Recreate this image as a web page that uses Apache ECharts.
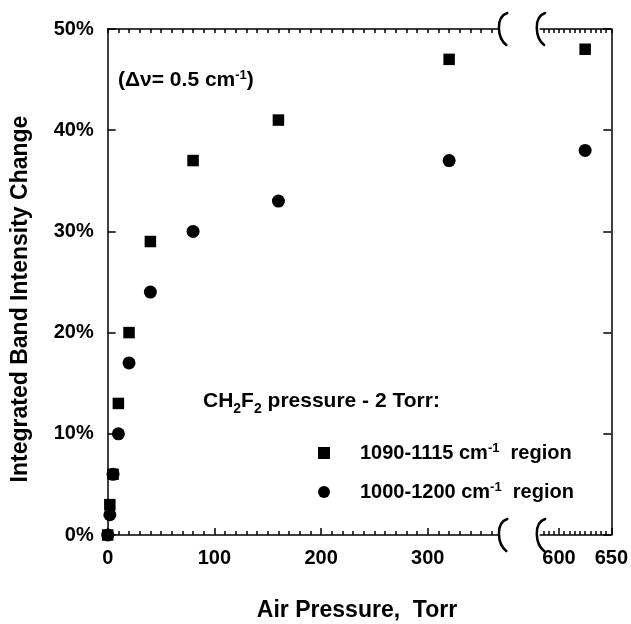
<!DOCTYPE html>
<html>
<head>
<meta charset="utf-8">
<script src="https://cdn.jsdelivr.net/npm/echarts@6/dist/echarts.min.js"></script>
<style>
  html, body { margin: 0; padding: 0; background: #ffffff; }
  #chart { width: 631px; height: 624px; }
</style>
</head>
<body>
<div id="chart"></div>
<script>
// Air pressure (Torr) and the integrated band intensity change (%) for two spectral windows
const pressureTorr   = [0, 2, 5, 10, 20, 40, 80, 160, 320, 625];
const band1090to1115 = [0, 3, 6, 13, 20, 29, 37, 41, 47, 48];
const band1000to1200 = [0, 2, 6, 10, 17, 24, 30, 33, 37, 38];

const seriesNames = ['1090-1115 cm-1 region', '1000-1200 cm-1 region'];

// Broken x axis: a low segment and a high segment
const lowRange  = [0, 367];
const highRange = [582, 650];
const lowMajorTicks  = [0, 100, 200, 300];
const lowMinorTicks  = [0, 10, 20, 30, 40, 50, 60, 70, 80, 90, 100, 110, 120, 130, 140, 150, 160, 170, 180,
                        190, 200, 210, 220, 230, 240, 250, 260, 270, 280, 290, 300, 310, 320, 330, 340, 350, 360];
const highMajorTicks = [600, 650];
const highMinorTicks = [585, 590, 595, 600, 605, 610, 615, 620, 625, 630, 635, 640, 645, 650];

const FONT = '"Liberation Sans", Arial, Helvetica, sans-serif';
const INK = '#000000';

// layout (pixels)
const plotTop = 29, plotHeight = 506;
const pxPerTorr = 1.067;
const lowLeft = 107.7;
const lowWidth = (lowRange[1] - lowRange[0]) * pxPerTorr;
const highWidth = (highRange[1] - highRange[0]) * pxPerTorr;
const highLeft = 612.7 - highWidth;

function split(values, inHigh) {
  const out = [];
  pressureTorr.forEach((p, i) => {
    const high = p >= highRange[0];
    if (high === inHigh) out.push([p, values[i]]);
  });
  return out;
}

function xAxisSet(gridIndex, range, major, minor) {
  const line = { show: true, lineStyle: { color: INK, width: 1.5 } };
  const base = {
    type: 'value', gridIndex, min: range[0], max: range[1],
    splitLine: { show: false }
  };
  return [
    Object.assign({}, base, {
      position: 'bottom', axisLine: line,
      axisTick: { show: true, inside: true, length: 7, customValues: major, lineStyle: { color: INK, width: 1.5 } },
      axisLabel: { show: true, customValues: major, margin: 13, color: INK,
                   fontFamily: FONT, fontWeight: 'bold', fontSize: 20 }
    }),
    Object.assign({}, base, {
      position: 'bottom', axisLine: { show: false },
      axisTick: { show: true, inside: true, length: 4, customValues: minor, lineStyle: { color: INK, width: 1.5 } },
      axisLabel: { show: false }
    }),
    Object.assign({}, base, {
      position: 'top', axisLine: line,
      axisTick: { show: true, inside: true, length: 4, customValues: minor, lineStyle: { color: INK, width: 1.5 } },
      axisLabel: { show: false }
    })
  ];
}

const xAxes = [].concat(
  xAxisSet(0, lowRange, lowMajorTicks, lowMinorTicks),
  xAxisSet(1, highRange, highMajorTicks, highMinorTicks)
);

const yBase = {
  type: 'value', min: 0, max: 50, interval: 10,
  splitLine: { show: false },
  axisLine: { show: true, lineStyle: { color: INK, width: 1.5 } },
  axisTick: { show: true, inside: true, length: 8, lineStyle: { color: INK, width: 1.5 } }
};
const yAxes = [
  Object.assign({}, yBase, {
    gridIndex: 0, position: 'left',
    axisLabel: { formatter: '{value}%', margin: 14, color: INK, fontFamily: FONT, fontWeight: 'bold', fontSize: 20 },
    name: 'Integrated Band Intensity Change', nameLocation: 'middle', nameGap: 76, nameRotate: 90,
    nameTextStyle: { color: INK, fontFamily: FONT, fontWeight: 'bold', fontSize: 23, padding: [0, 34, 0, 0] }
  }),
  Object.assign({}, yBase, {
    gridIndex: 1, position: 'right',
    axisLabel: { show: false }
  })
];

const markerStyles = [
  { symbol: 'rect', symbolSize: 11.5 },
  { symbol: 'circle', symbolSize: 13 }
];
const seriesValues = [band1090to1115, band1000to1200];

const series = [];
seriesValues.forEach((vals, s) => {
  [false, true].forEach(inHigh => {
    series.push({
      type: 'scatter',
      name: seriesNames[s],
      xAxisIndex: inHigh ? 3 : 0,
      yAxisIndex: inHigh ? 1 : 0,
      symbol: markerStyles[s].symbol,
      symbolSize: markerStyles[s].symbolSize,
      itemStyle: { color: INK, opacity: 1 },
      emphasis: { disabled: true },
      data: split(vals, inHigh)
    });
  });
});

const richText = {
  sup: { fontFamily: FONT, fontWeight: 'bold', fontSize: 13, color: INK, verticalAlign: 'top', lineHeight: 22 },
  sub: { fontFamily: FONT, fontWeight: 'bold', fontSize: 14, color: INK, verticalAlign: 'bottom', lineHeight: 30 },
  gap: { width: 25 }
};

function legendLabel(name) {
  return '{gap| }' + name.replace('cm-1 ', 'cm{sup|-1}  ');
}

function legendFor(index, top) {
  return {
    data: [{ name: seriesNames[index], icon: markerStyles[index].symbol }],
    left: 313, top,
    itemWidth: 12, itemHeight: 12,
    selectedMode: false,
    formatter: legendLabel,
    textStyle: { color: INK, fontFamily: FONT, fontWeight: 'bold', fontSize: 20, rich: richText },
    itemStyle: { color: INK }
  };
}

// curly break marks on the top and bottom axis lines
function breakMark(cx, cy) {
  return {
    type: 'bezierCurve',
    shape: { x1: cx + 5, y1: cy - 16, cpx1: cx - 7, cpy1: cy - 12, cpx2: cx - 5, cpy2: cy + 9, x2: cx + 4, y2: cy + 16 },
    style: { stroke: INK, lineWidth: 2.5, fill: null, lineCap: 'round' },
    z: 100
  };
}
const lowEdge = lowLeft + lowWidth;
const breakMarks = [
  breakMark(lowEdge + 3, plotTop), breakMark(highLeft, plotTop),
  breakMark(lowEdge + 3, plotTop + plotHeight), breakMark(highLeft, plotTop + plotHeight)
];

const chart = echarts.init(document.getElementById('chart'), null, { renderer: 'canvas' });
chart.setOption({
  backgroundColor: '#ffffff',
  animation: false,
  grid: [
    { left: lowLeft, top: plotTop, width: lowWidth, height: plotHeight },
    { left: highLeft, top: plotTop, width: highWidth, height: plotHeight }
  ],
  xAxis: xAxes,
  yAxis: yAxes,
  title: [
    {
      text: 'Air Pressure,  Torr', left: 352, top: 594, textAlign: 'center',
      textStyle: { color: INK, fontFamily: FONT, fontWeight: 'bold', fontSize: 23 }
    },
    {
      text: '(\u0394\u03bd= 0.5 cm{sup|-1})', left: 113, top: 64,
      textStyle: { color: INK, fontFamily: FONT, fontWeight: 'bold', fontSize: 21, rich: richText }
    },
    {
      text: 'CH{sub|2}F{sub|2} pressure - 2 Torr:', left: 198, top: 381,
      textStyle: { color: INK, fontFamily: FONT, fontWeight: 'bold', fontSize: 21, lineHeight: 30, rich: richText }
    }
  ],
  legend: [legendFor(0, 437), legendFor(1, 476)],
  graphic: breakMarks,
  series
});
</script>
</body>
</html>
